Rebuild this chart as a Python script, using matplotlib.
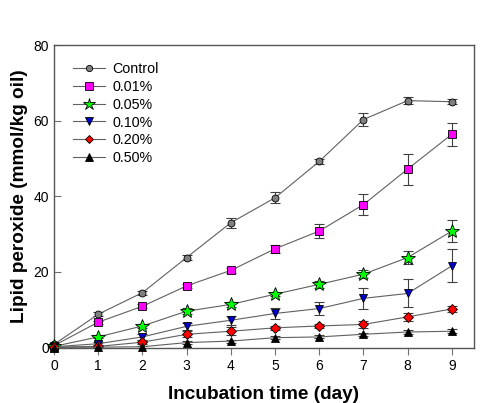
import matplotlib.pyplot as plt
from matplotlib.lines import Line2D

plt.rcParams['font.family'] = ['Liberation Sans', 'DejaVu Sans']

days = [0, 1, 2, 3, 4, 5, 6, 7, 8, 9]

# 各处理组脂质过氧化值 (mmol/kg oil)
control = [0.8, 8.8, 14.5, 23.8, 33.0, 39.6, 49.2, 60.3, 65.3, 65.0]
control_err = [0.3, 0.5, 0.5, 0.6, 1.3, 1.5, 0.6, 1.8, 0.9, 0.6]
p001 = [0.5, 6.7, 10.9, 16.3, 20.4, 26.1, 30.8, 37.8, 47.2, 56.4]
p001_err = [0.3, 0.4, 0.5, 0.5, 0.6, 1.0, 1.8, 2.8, 4.1, 3.1]
p005 = [0.3, 2.8, 5.7, 9.6, 11.4, 14.1, 16.7, 19.4, 23.8, 30.8]
p005_err = [0.2, 0.4, 0.6, 0.8, 0.6, 0.6, 1.0, 1.0, 1.8, 3.0]
p010 = [0.2, 1.0, 2.8, 5.6, 7.2, 9.0, 10.3, 13.0, 14.3, 21.6]
p010_err = [0.2, 0.4, 0.8, 1.0, 1.2, 1.5, 1.8, 2.7, 3.7, 4.4]
p020 = [0.1, 0.3, 1.4, 3.5, 4.3, 5.2, 5.7, 6.1, 8.1, 10.2]
p020_err = [0.1, 0.2, 0.6, 0.8, 1.0, 0.6, 0.6, 1.0, 1.0, 0.9]
p050 = [0.0, 0.1, 0.2, 1.3, 1.7, 2.6, 2.8, 3.5, 4.1, 4.3]
p050_err = [0.1, 0.1, 0.2, 0.3, 0.4, 0.4, 0.4, 0.4, 0.5, 0.5]

labels = ["Control", "0.01%", "0.05%", "0.10%", "0.20%", "0.50%"]
series = [control, p001, p005, p010, p020, p050]
errors = [control_err, p001_err, p005_err, p010_err, p020_err, p050_err]
markers = ["o", "s", "*", "v", "D", "^"]
colors = ["#808080", "#ff00ff", "#00ff00", "#0000cc", "#ff0000", "#000000"]
sizes = [5, 6, 10, 6, 5, 6]

fig = plt.figure(figsize=(4.99, 4.03), dpi=100)
ax = fig.add_axes([0.1082, 0.1377, 0.8417, 0.7506])

handles = []
for y, e, lab, m, c, s in zip(series, errors, labels, markers, colors, sizes):
    ax.errorbar(days, y, yerr=e, fmt="none", ecolor="#404040",
                elinewidth=0.8, capsize=3.5, capthick=0.8, clip_on=False)
    ax.plot(days, y, marker=m, markersize=s, markerfacecolor=c,
            markeredgecolor="black", markeredgewidth=0.6,
            color="#606060", linewidth=0.8, clip_on=False, zorder=3)
    handles.append(Line2D([], [], marker=m, markersize=s * 0.9, markerfacecolor=c,
                          markeredgecolor="black", markeredgewidth=0.6,
                          color="#606060", linewidth=0.8, label=lab))

ax.set_xlim(0, 9.5)
ax.set_ylim(0, 80)
ax.set_xticks(range(10))
ax.set_yticks([0, 20, 40, 60, 80])
ax.tick_params(labelsize=10, length=4, width=0.8, color="#707070")
ax.tick_params(axis="y", direction="in", length=5)
ax.tick_params(axis="x", direction="out", length=5)
for sp in ax.spines.values():
    sp.set_color("#555555")
    sp.set_linewidth(1.0)

ax.set_xlabel("Incubation time (day)", fontsize=13.7, fontweight="bold", labelpad=9)
ax.set_ylabel("Lipid peroxide (mmol/kg oil)", fontsize=13.7, fontweight="bold", labelpad=4)

ax.legend(handles=handles, loc="upper left", frameon=False, fontsize=10.3,
          handlelength=2.2, labelspacing=0.26, borderaxespad=0.6,
          handletextpad=0.55, bbox_to_anchor=(0.012, 0.99))

plt.savefig("out.png", dpi=100)
plt.close()
